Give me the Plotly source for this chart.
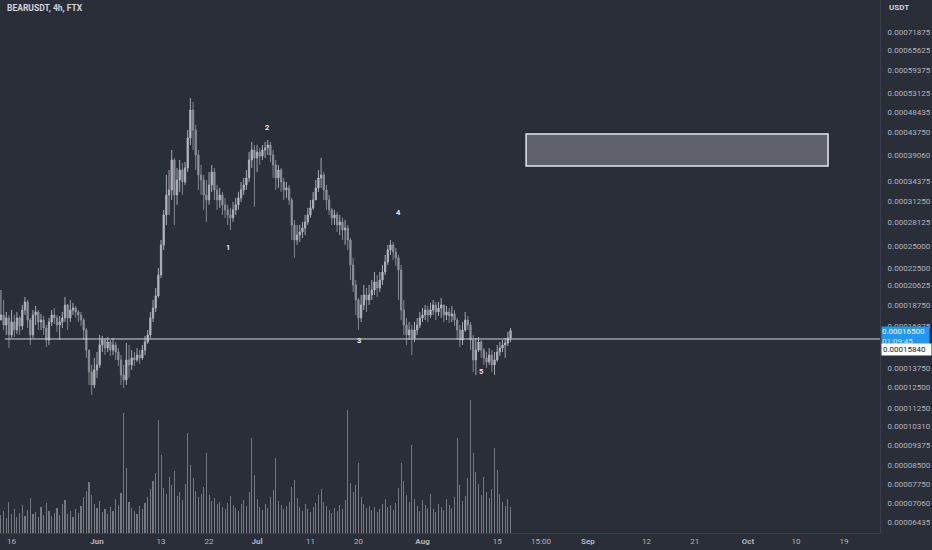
import numpy as np
import pandas as pd
import plotly.graph_objects as go

TITLE = "BEARUSDT, 4h, FTX"
CANDLE_START = "2021-05-14 00:00"
CANDLE_FREQ = "12h"

# prices in micro-USDT (1e-6 USDT)
first_open_u = 173.9
close_u = [
    178.3, 169.7, 175.7, 161.6, 172.2, 165.6, 175.7, 168.9, 182.7, 190.1,
    173.9, 161.6, 178.3, 180.9, 172.2, 173.9, 167.2, 157.6, 172.2, 178.3,
    175.7, 169.7, 172.2, 175.7, 187.3, 175.7, 182.7, 184.5, 180.9, 178.3,
    173.9, 165.6, 150.0, 134.7, 126.3, 136.0, 139.4, 153.8, 157.6, 151.5,
    156.1, 150.0, 153.8, 148.6, 142.9, 132.7, 129.5, 142.9, 139.4, 144.3,
    142.9, 146.4, 144.3, 150.0, 156.1, 161.6, 175.7, 184.5, 195.8, 217.1,
    251.7, 291.8, 321.9, 330.0, 382.4, 321.9, 346.6, 364.0, 343.2, 367.6,
    426.1, 489.1, 443.2, 391.9, 355.2, 346.6, 321.9, 314.1, 338.1, 360.5,
    330.0, 314.1, 321.9, 306.5, 299.1, 291.8, 287.5, 299.1, 306.5, 317.2,
    330.0, 338.1, 350.0, 382.4, 401.7, 386.2, 397.8, 390.0, 401.7, 405.7,
    411.7, 391.9, 373.1, 350.0, 364.0, 343.2, 330.0, 333.2, 314.1, 277.7,
    257.9, 264.4, 268.3, 273.6, 281.8, 291.8, 302.0, 314.1, 333.2, 350.0,
    355.2, 330.0, 314.1, 299.1, 287.5, 291.8, 277.7, 281.8, 270.9, 273.6,
    257.9, 228.1, 206.6, 192.0, 175.7, 187.3, 196.7, 192.0, 196.7, 201.6,
    209.7, 203.6, 211.7, 220.3, 231.5, 245.5, 251.7, 243.1, 236.1, 222.5,
    182.7, 169.7, 161.6, 165.6, 159.2, 165.6, 169.7, 175.7, 178.3, 182.7,
    178.3, 182.7, 187.3, 180.9, 184.5, 187.3, 178.3, 180.9, 177.4, 179.2,
    173.9, 165.6, 157.6, 165.6, 173.9, 169.7, 157.6, 142.9, 150.0, 156.1,
    150.0, 144.3, 141.5, 146.4, 139.4, 142.9, 148.6, 151.5, 153.8, 155.3,
    159.2, 165.0,
]
high_u = [
    201.6, 192.0, 180.9, 178.3, 182.7, 178.3, 180.9, 177.4, 187.3, 194.8,
    192.0, 175.7, 182.7, 186.4, 182.7, 179.2, 177.4, 169.7, 175.7, 182.7,
    184.5, 178.3, 177.4, 180.9, 194.8, 188.2, 192.0, 189.2, 186.4, 182.7,
    180.9, 175.7, 167.2, 150.0, 139.4, 144.3, 148.6, 161.6, 160.8, 159.2,
    160.0, 157.6, 159.2, 156.1, 151.5, 146.4, 139.4, 155.3, 153.8, 150.0,
    148.6, 151.5, 150.0, 153.8, 160.8, 165.6, 180.9, 192.0, 203.6, 224.7,
    257.9, 299.1, 355.2, 364.0, 401.7, 386.2, 367.6, 382.4, 376.8, 378.7,
    443.2, 518.9, 508.8, 454.3, 401.7, 373.1, 355.2, 346.6, 360.5, 373.1,
    367.6, 338.1, 333.2, 326.8, 317.2, 306.5, 302.0, 311.1, 317.2, 326.8,
    343.2, 350.0, 364.0, 397.8, 417.9, 411.7, 411.7, 405.7, 411.7, 417.9,
    422.0, 417.9, 401.7, 382.4, 373.1, 367.6, 350.0, 343.2, 338.1, 317.2,
    284.6, 277.7, 277.7, 281.8, 291.8, 302.0, 314.1, 326.8, 346.6, 364.0,
    386.2, 360.5, 338.1, 321.9, 302.0, 299.1, 296.2, 291.8, 287.5, 284.6,
    277.7, 260.5, 236.1, 211.7, 193.9, 196.7, 206.6, 203.6, 206.6, 211.7,
    220.3, 217.1, 220.3, 228.1, 239.6, 251.7, 257.9, 255.4, 248.0, 239.6,
    228.1, 192.0, 175.7, 172.2, 169.7, 172.2, 175.7, 180.9, 184.5, 187.3,
    186.4, 189.2, 192.0, 190.1, 190.1, 193.9, 187.3, 186.4, 184.5, 186.4,
    182.7, 175.7, 169.7, 172.2, 180.9, 177.4, 172.2, 161.6, 159.2, 160.0,
    157.6, 151.5, 148.6, 151.5, 150.0, 148.6, 153.8, 156.1, 157.6, 159.2,
    164.0, 167.2,
]
low_u = [
    173.9, 165.6, 161.6, 151.5, 159.2, 160.0, 162.4, 161.6, 165.6, 178.3,
    167.2, 153.8, 159.2, 169.7, 165.6, 165.6, 161.6, 152.3, 153.8, 168.9,
    170.5, 164.0, 157.6, 167.2, 172.2, 165.6, 172.2, 178.3, 175.7, 172.2,
    168.9, 157.6, 144.3, 126.3, 120.3, 124.4, 130.8, 137.4, 148.6, 146.4,
    148.6, 145.7, 146.4, 142.9, 138.7, 126.3, 124.4, 126.3, 130.8, 136.0,
    138.7, 141.5, 140.1, 142.9, 146.4, 154.6, 159.2, 172.2, 180.9, 193.9,
    213.8, 245.5, 277.7, 291.8, 314.1, 277.7, 306.5, 326.8, 321.9, 338.1,
    360.5, 411.7, 401.7, 364.0, 330.0, 321.9, 299.1, 281.8, 306.5, 326.8,
    314.1, 299.1, 302.0, 291.8, 287.5, 277.7, 270.9, 281.8, 291.8, 299.1,
    311.1, 321.9, 330.0, 343.2, 367.6, 303.5, 360.5, 373.1, 382.4, 386.2,
    391.9, 378.7, 350.0, 330.0, 333.2, 326.8, 314.1, 317.2, 306.5, 257.9,
    236.1, 251.7, 255.4, 260.5, 264.4, 277.7, 287.5, 299.1, 317.2, 326.8,
    333.2, 314.1, 299.1, 291.8, 277.7, 277.7, 268.3, 264.4, 257.9, 251.7,
    245.5, 211.7, 199.6, 178.3, 165.6, 172.2, 182.7, 180.9, 187.3, 192.0,
    196.7, 194.8, 199.6, 206.6, 217.1, 228.1, 239.6, 233.8, 227.0, 192.0,
    173.9, 161.6, 153.8, 157.6, 146.4, 156.1, 161.6, 167.2, 172.2, 173.9,
    172.2, 175.7, 178.3, 173.9, 177.4, 175.7, 172.2, 173.9, 171.4, 172.2,
    168.9, 157.6, 152.3, 153.8, 164.0, 165.6, 150.0, 134.7, 132.7, 148.6,
    144.3, 139.4, 137.4, 139.4, 134.7, 132.7, 141.5, 145.7, 148.6, 144.3,
    153.0, 156.1,
]
# volume, millions of BEAR
volume_m = [
    1.8, 2.2, 1.5, 3.1, 1.9, 2.4, 1.6, 2.0, 2.8, 1.7,
    2.3, 3.5, 1.9, 2.1, 1.6, 2.6, 1.8, 3.0, 2.2, 1.7,
    2.0, 2.5, 1.8, 2.9, 3.3, 1.9, 2.2, 1.6, 2.4, 2.0,
    2.7, 3.6, 4.2, 5.1, 3.8, 2.9, 2.5, 3.2, 2.1, 2.4,
    1.9, 2.6, 2.2, 3.4, 2.8, 4.0, 12.0, 6.5, 3.1, 2.5,
    2.2, 1.9, 2.7, 2.4, 3.0, 3.6, 4.4, 5.2, 6.0, 11.3,
    7.8, 4.5, 3.9, 5.6, 4.8, 6.2, 3.7, 4.1, 3.3, 4.9,
    10.0, 6.8, 5.5, 4.2, 3.6, 3.9, 4.6, 8.0, 3.8, 3.2,
    3.5, 2.9, 3.1, 2.6, 2.4, 3.0, 3.7, 2.8, 2.5, 2.2,
    2.9, 3.3, 2.7, 4.1, 9.5, 5.8, 3.4, 2.6, 2.3, 2.9,
    2.5, 3.6, 4.3, 7.5, 3.2, 2.8, 2.4, 2.7, 3.1, 4.6,
    5.3, 3.5, 2.6, 2.2, 2.9, 2.4, 2.1, 2.6, 3.0, 3.8,
    4.4, 3.1, 2.7, 2.3, 2.0, 2.5, 2.2, 2.8, 2.4, 3.3,
    12.3, 5.0, 4.1, 4.8, 7.0, 3.6, 2.9, 2.5, 2.7, 2.3,
    2.6, 2.1, 2.4, 2.9, 3.4, 2.6, 2.8, 2.3, 3.0, 4.5,
    7.0, 5.2, 3.8, 3.1, 8.8, 3.4, 2.7, 2.2, 3.3, 2.8,
    2.5, 3.9, 2.4, 2.1, 2.9, 2.6, 2.3, 3.4, 2.8, 2.5,
    3.6, 9.5, 4.8, 3.2, 3.7, 5.5, 13.3, 8.0, 6.1, 4.9,
    3.8, 5.6, 4.1, 3.5, 4.4, 8.5, 6.3, 3.9, 3.1, 2.7,
    3.4, 2.6,
]

price_ticks = [0.00071875, 0.00065625, 0.00059375, 0.00053125, 0.00048435,
               0.00043750, 0.00039060, 0.00034375, 0.00031250, 0.00028125,
               0.00025000, 0.00022500, 0.00020625, 0.00018750, 0.00016875,
               0.00013750, 0.00012500, 0.00011250, 0.00010310, 0.00009375,
               0.00008500, 0.00007750, 0.00007060, 0.00006435]
price_ticktext = [f"{v:.8f}" for v in price_ticks]
price_range = [0.00006094, 0.00084052]

time_ticks = ["2021-05-16", "2021-06-01", "2021-06-13", "2021-06-22", "2021-07-01",
              "2021-07-11", "2021-07-20", "2021-08-01", "2021-08-15", "2021-08-23 05:00",
              "2021-09-01", "2021-09-12", "2021-09-21", "2021-10-01", "2021-10-10",
              "2021-10-19"]
time_ticktext = ["16", "<b>Jun</b>", "13", "22", "<b>Jul</b>", "11", "20", "<b>Aug</b>",
                 "15", "15:00", "<b>Sep</b>", "12", "21", "<b>Oct</b>", "10", "19"]
time_range = ["2021-05-13 19:43", "2021-10-25 17:45"]

wave_labels = ["1", "2", "3", "4", "5"]
wave_dates = ["2021-06-25 13:00", "2021-07-03 01:00", "2021-07-20 02:00",
              "2021-07-27 10:00", "2021-08-11 23:00"]
wave_prices = [0.0002480, 0.0004476, 0.0001576, 0.0002947, 0.0001347]

level_price = 0.0001584
level_start = "2021-05-14 18:00"
zone_start, zone_end = "2021-08-20 10:00", "2021-10-16 00:00"
zone_low, zone_high = 0.0003712, 0.0004346
countdown = "01:09:45"

BG = "#2a2e39"
TXT = "#b2b5be"
FONT = "Roboto, Inter, sans-serif"

dates = pd.date_range(CANDLE_START, periods=len(close_u), freq=CANDLE_FREQ)
close = np.array(close_u) * 1e-6
high = np.array(high_u) * 1e-6
low = np.array(low_u) * 1e-6
open_ = np.concatenate([[first_open_u * 1e-6], close[:-1]])

fig = go.Figure()
fig.add_trace(go.Bar(
    x=dates, y=volume_m, yaxis="y2",
    marker=dict(color="rgba(150,153,162,0.7)", line=dict(width=0)),
    width=12 * 3600 * 1000 * 0.4, hoverinfo="skip", showlegend=False))
fig.add_trace(go.Candlestick(
    x=dates, open=open_, high=high, low=low, close=close,
    increasing=dict(line=dict(color="#b4b7be", width=0.9), fillcolor="#b4b7be"),
    decreasing=dict(line=dict(color="#8e9199", width=0.9), fillcolor="#8e9199"),
    whiskerwidth=0, showlegend=False))

fig.add_shape(type="line", xref="x", yref="y", x0=level_start, x1=time_range[1],
              y0=level_price, y1=level_price, line=dict(color="#d1d4dc", width=1))
fig.add_shape(type="rect", xref="x", yref="y", x0=zone_start, x1=zone_end,
              y0=zone_low, y1=zone_high, fillcolor="#5f626b",
              line=dict(color="#e6e8ee", width=1.5))

ann = []
for lab, d, p in zip(wave_labels, wave_dates, wave_prices):
    ann.append(dict(x=d, y=np.log10(p), xref="x", yref="y", text=f"<b>{lab}</b>",
                    showarrow=False, font=dict(color="#e8e9ec", size=7.5, family=FONT)))
ann.append(dict(x=5 / 880, y=1 - 8 / 533, xref="paper", yref="paper", text=f"<b>{TITLE}</b>",
                xanchor="left", yanchor="middle", showarrow=False,
                font=dict(color="#d1d4dc", size=8.5, family=FONT)))
ann.append(dict(x=1, xshift=7, y=1 - 8 / 533, xref="paper", yref="paper", text="<b>USDT</b>",
                xanchor="left", yanchor="middle", showarrow=False,
                font=dict(color="#d1d4dc", size=8, family=FONT)))
ann.append(dict(x=1, xshift=1, y=np.log10(close[-1]), yshift=5, xref="paper", yref="y",
                text=f"{close[-1]:.8f}<br><span style='color:#cfe6fd'>{countdown}</span>",
                xanchor="left", yanchor="top", showarrow=False, align="left",
                bgcolor="#2196f3", width=47, borderpad=0,
                font=dict(color="#ffffff", size=8, family=FONT)))
ann.append(dict(x=1, xshift=1, y=np.log10(level_price), yshift=-4.5, xref="paper", yref="y",
                text=f"{level_price:.8f}", xanchor="left", yanchor="top", showarrow=False,
                align="left", bgcolor="#ffffff", width=47, borderpad=1,
                font=dict(color="#131722", size=8, family=FONT)))

fig.update_layout(
    width=932, height=550,
    margin=dict(l=0, r=52, t=0, b=17),
    paper_bgcolor=BG, plot_bgcolor=BG,
    font=dict(family=FONT, color=TXT, size=8),
    bargap=0,
    annotations=ann,
    xaxis=dict(type="date", range=time_range, tickvals=time_ticks, ticktext=time_ticktext,
               showgrid=False, zeroline=False, showline=True, linecolor="#3b3f4b",
               ticks="", tickfont=dict(size=8, color=TXT), rangeslider=dict(visible=False),
               fixedrange=True),
    yaxis=dict(type="log", side="right", range=[np.log10(price_range[0]), np.log10(price_range[1])],
               tickvals=price_ticks, ticktext=price_ticktext, showgrid=False, zeroline=False,
               showline=True, linecolor="#3b3f4b", ticks="", ticklabelstandoff=5,
               tickfont=dict(size=8, color=TXT)),
    yaxis2=dict(overlaying="y", range=[0, 53.3], visible=False, showgrid=False),
)

fig.write_html("out.html", config={"displayModeBar": False},
               post_script="document.body.style.margin='0';document.body.style.background='%s';" % BG)
